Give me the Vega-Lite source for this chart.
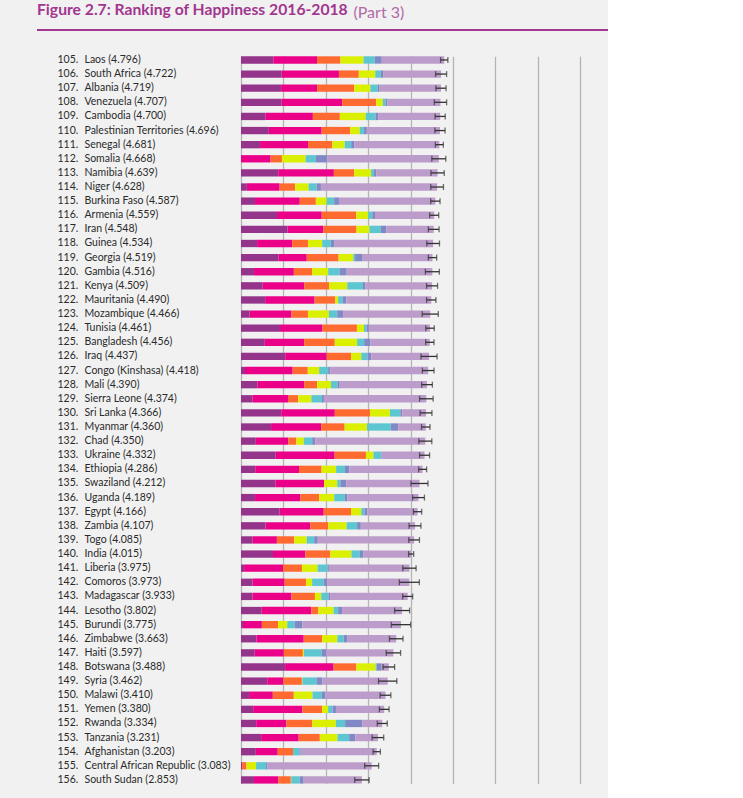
{
  "$schema": "https://vega.github.io/schema/vega-lite/v6.json",
  "width": 571,
  "height": 777,
  "autosize": "none",
  "padding": {"left": 37, "top": 30, "right": 0, "bottom": 0},
  "background": "#f1f1f1",
  "title": {
    "text": "Figure 2.7: Ranking of Happiness 2016-2018",
    "anchor": "start",
    "frame": "group",
    "font": "Lato",
    "fontSize": 15.7,
    "fontWeight": "bold",
    "color": "#a2368f",
    "offset": -15
  },
  "config": {
    "view": {"fill": null, "stroke": "#a2368f", "strokeWidth": 2, "strokeDash": [571, 6000]},
    "axis": {"labelFont": "Lato", "titleFont": "Lato"}
  },
  "datasets": {
    "factors": [
      {"factor": "gdp", "position": 1},
      {"factor": "social", "position": 2},
      {"factor": "health", "position": 3},
      {"factor": "freedom", "position": 4},
      {"factor": "generosity", "position": 5},
      {"factor": "corruption", "position": 6},
      {"factor": "dystopia", "position": 7}
    ]
  },
  "data": {
    "values": [
      {"rank": 105, "country": "Laos", "score": 4.796, "gdp": 0.764, "social": 1.030, "health": 0.551, "freedom": 0.547, "generosity": 0.266, "corruption": 0.164, "dystopia": 1.474, "lo": 4.710, "hi": 4.882},
      {"rank": 106, "country": "South Africa", "score": 4.722, "gdp": 0.960, "social": 1.351, "health": 0.469, "freedom": 0.389, "generosity": 0.130, "corruption": 0.055, "dystopia": 1.368, "lo": 4.592, "hi": 4.852},
      {"rank": 107, "country": "Albania", "score": 4.719, "gdp": 0.947, "social": 0.848, "health": 0.874, "freedom": 0.383, "generosity": 0.178, "corruption": 0.027, "dystopia": 1.462, "lo": 4.599, "hi": 4.839},
      {"rank": 108, "country": "Venezuela", "score": 4.707, "gdp": 0.960, "social": 1.427, "health": 0.805, "freedom": 0.154, "generosity": 0.064, "corruption": 0.047, "dystopia": 1.250, "lo": 4.562, "hi": 4.852},
      {"rank": 109, "country": "Cambodia", "score": 4.700, "gdp": 0.574, "social": 1.122, "health": 0.637, "freedom": 0.609, "generosity": 0.232, "corruption": 0.062, "dystopia": 1.464, "lo": 4.580, "hi": 4.820},
      {"rank": 110, "country": "Palestinian Territories", "score": 4.696, "gdp": 0.657, "social": 1.247, "health": 0.672, "freedom": 0.225, "generosity": 0.103, "corruption": 0.066, "dystopia": 1.726, "lo": 4.576, "hi": 4.816},
      {"rank": 111, "country": "Senegal", "score": 4.681, "gdp": 0.450, "social": 1.134, "health": 0.571, "freedom": 0.292, "generosity": 0.153, "corruption": 0.072, "dystopia": 2.009, "lo": 4.587, "hi": 4.775},
      {"rank": 112, "country": "Somalia", "score": 4.668, "gdp": 0.000, "social": 0.698, "health": 0.268, "freedom": 0.559, "generosity": 0.243, "corruption": 0.270, "dystopia": 2.630, "lo": 4.503, "hi": 4.833},
      {"rank": 113, "country": "Namibia", "score": 4.639, "gdp": 0.879, "social": 1.313, "health": 0.477, "freedom": 0.401, "generosity": 0.070, "corruption": 0.056, "dystopia": 1.443, "lo": 4.482, "hi": 4.796},
      {"rank": 114, "country": "Niger", "score": 4.628, "gdp": 0.138, "social": 0.774, "health": 0.366, "freedom": 0.318, "generosity": 0.188, "corruption": 0.102, "dystopia": 2.742, "lo": 4.478, "hi": 4.778},
      {"rank": 115, "country": "Burkina Faso", "score": 4.587, "gdp": 0.331, "social": 1.056, "health": 0.380, "freedom": 0.255, "generosity": 0.177, "corruption": 0.113, "dystopia": 2.275, "lo": 4.477, "hi": 4.697},
      {"rank": 116, "country": "Armenia", "score": 4.559, "gdp": 0.850, "social": 1.055, "health": 0.815, "freedom": 0.283, "generosity": 0.095, "corruption": 0.064, "dystopia": 1.397, "lo": 4.453, "hi": 4.665},
      {"rank": 117, "country": "Iran", "score": 4.548, "gdp": 1.100, "social": 0.842, "health": 0.785, "freedom": 0.305, "generosity": 0.270, "corruption": 0.125, "dystopia": 1.121, "lo": 4.422, "hi": 4.674},
      {"rank": 118, "country": "Guinea", "score": 4.534, "gdp": 0.380, "social": 0.829, "health": 0.375, "freedom": 0.332, "generosity": 0.207, "corruption": 0.086, "dystopia": 2.325, "lo": 4.384, "hi": 4.684},
      {"rank": 119, "country": "Georgia", "score": 4.519, "gdp": 0.886, "social": 0.666, "health": 0.752, "freedom": 0.346, "generosity": 0.043, "corruption": 0.164, "dystopia": 1.662, "lo": 4.421, "hi": 4.617},
      {"rank": 120, "country": "Gambia", "score": 4.516, "gdp": 0.308, "social": 0.939, "health": 0.428, "freedom": 0.382, "generosity": 0.269, "corruption": 0.167, "dystopia": 2.023, "lo": 4.351, "hi": 4.681},
      {"rank": 121, "country": "Kenya", "score": 4.509, "gdp": 0.512, "social": 0.983, "health": 0.581, "freedom": 0.431, "generosity": 0.372, "corruption": 0.053, "dystopia": 1.577, "lo": 4.379, "hi": 4.639},
      {"rank": 122, "country": "Mauritania", "score": 4.490, "gdp": 0.570, "social": 1.167, "health": 0.489, "freedom": 0.066, "generosity": 0.106, "corruption": 0.088, "dystopia": 2.004, "lo": 4.380, "hi": 4.600},
      {"rank": 123, "country": "Mozambique", "score": 4.466, "gdp": 0.204, "social": 0.986, "health": 0.390, "freedom": 0.494, "generosity": 0.197, "corruption": 0.138, "dystopia": 2.057, "lo": 4.276, "hi": 4.656},
      {"rank": 124, "country": "Tunisia", "score": 4.461, "gdp": 0.921, "social": 1.000, "health": 0.815, "freedom": 0.167, "generosity": 0.059, "corruption": 0.055, "dystopia": 1.444, "lo": 4.361, "hi": 4.561},
      {"rank": 125, "country": "Bangladesh", "score": 4.456, "gdp": 0.562, "social": 0.928, "health": 0.723, "freedom": 0.527, "generosity": 0.166, "corruption": 0.143, "dystopia": 1.407, "lo": 4.358, "hi": 4.554},
      {"rank": 126, "country": "Iraq", "score": 4.437, "gdp": 1.043, "social": 0.980, "health": 0.574, "freedom": 0.241, "generosity": 0.148, "corruption": 0.089, "dystopia": 1.362, "lo": 4.247, "hi": 4.627},
      {"rank": 127, "country": "Congo (Kinshasa)", "score": 4.418, "gdp": 0.094, "social": 1.125, "health": 0.357, "freedom": 0.269, "generosity": 0.212, "corruption": 0.053, "dystopia": 2.308, "lo": 4.281, "hi": 4.555},
      {"rank": 128, "country": "Mali", "score": 4.390, "gdp": 0.385, "social": 1.105, "health": 0.308, "freedom": 0.327, "generosity": 0.153, "corruption": 0.052, "dystopia": 2.060, "lo": 4.264, "hi": 4.516},
      {"rank": 129, "country": "Sierra Leone", "score": 4.374, "gdp": 0.268, "social": 0.841, "health": 0.242, "freedom": 0.309, "generosity": 0.252, "corruption": 0.045, "dystopia": 2.417, "lo": 4.214, "hi": 4.534},
      {"rank": 130, "country": "Sri Lanka", "score": 4.366, "gdp": 0.949, "social": 1.265, "health": 0.831, "freedom": 0.470, "generosity": 0.244, "corruption": 0.047, "dystopia": 0.560, "lo": 4.226, "hi": 4.506},
      {"rank": 131, "country": "Myanmar", "score": 4.360, "gdp": 0.710, "social": 1.181, "health": 0.555, "freedom": 0.525, "generosity": 0.566, "corruption": 0.172, "dystopia": 0.651, "lo": 4.260, "hi": 4.460},
      {"rank": 132, "country": "Chad", "score": 4.350, "gdp": 0.350, "social": 0.766, "health": 0.192, "freedom": 0.174, "generosity": 0.198, "corruption": 0.078, "dystopia": 2.592, "lo": 4.197, "hi": 4.503},
      {"rank": 133, "country": "Ukraine", "score": 4.332, "gdp": 0.820, "social": 1.390, "health": 0.739, "freedom": 0.178, "generosity": 0.187, "corruption": 0.010, "dystopia": 1.008, "lo": 4.214, "hi": 4.450},
      {"rank": 134, "country": "Ethiopia", "score": 4.286, "gdp": 0.336, "social": 1.033, "health": 0.532, "freedom": 0.344, "generosity": 0.209, "corruption": 0.100, "dystopia": 1.732, "lo": 4.192, "hi": 4.380},
      {"rank": 135, "country": "Swaziland", "score": 4.212, "gdp": 0.811, "social": 1.149, "health": 0.000, "freedom": 0.313, "generosity": 0.074, "corruption": 0.135, "dystopia": 1.730, "lo": 4.012, "hi": 4.412},
      {"rank": 136, "country": "Uganda", "score": 4.189, "gdp": 0.332, "social": 1.069, "health": 0.443, "freedom": 0.356, "generosity": 0.252, "corruption": 0.060, "dystopia": 1.677, "lo": 4.049, "hi": 4.329},
      {"rank": 137, "country": "Egypt", "score": 4.166, "gdp": 0.913, "social": 1.039, "health": 0.644, "freedom": 0.241, "generosity": 0.076, "corruption": 0.067, "dystopia": 1.186, "lo": 4.068, "hi": 4.264},
      {"rank": 138, "country": "Zambia", "score": 4.107, "gdp": 0.578, "social": 1.058, "health": 0.426, "freedom": 0.431, "generosity": 0.247, "corruption": 0.087, "dystopia": 1.280, "lo": 3.967, "hi": 4.247},
      {"rank": 139, "country": "Togo", "score": 4.085, "gdp": 0.275, "social": 0.572, "health": 0.410, "freedom": 0.293, "generosity": 0.177, "corruption": 0.085, "dystopia": 2.273, "lo": 3.959, "hi": 4.211},
      {"rank": 140, "country": "India", "score": 4.015, "gdp": 0.755, "social": 0.765, "health": 0.588, "freedom": 0.498, "generosity": 0.200, "corruption": 0.085, "dystopia": 1.124, "lo": 3.955, "hi": 4.075},
      {"rank": 141, "country": "Liberia", "score": 3.975, "gdp": 0.073, "social": 0.922, "health": 0.443, "freedom": 0.370, "generosity": 0.233, "corruption": 0.033, "dystopia": 1.901, "lo": 3.818, "hi": 4.132},
      {"rank": 142, "country": "Comoros", "score": 3.973, "gdp": 0.274, "social": 0.757, "health": 0.505, "freedom": 0.142, "generosity": 0.275, "corruption": 0.078, "dystopia": 1.942, "lo": 3.737, "hi": 4.209},
      {"rank": 143, "country": "Madagascar", "score": 3.933, "gdp": 0.274, "social": 0.916, "health": 0.555, "freedom": 0.148, "generosity": 0.169, "corruption": 0.041, "dystopia": 1.830, "lo": 3.815, "hi": 4.051},
      {"rank": 144, "country": "Lesotho", "score": 3.802, "gdp": 0.489, "social": 1.169, "health": 0.168, "freedom": 0.359, "generosity": 0.107, "corruption": 0.093, "dystopia": 1.417, "lo": 3.625, "hi": 3.979},
      {"rank": 145, "country": "Burundi", "score": 3.775, "gdp": 0.046, "social": 0.447, "health": 0.380, "freedom": 0.220, "generosity": 0.176, "corruption": 0.180, "dystopia": 2.326, "lo": 3.547, "hi": 4.003},
      {"rank": 146, "country": "Zimbabwe", "score": 3.663, "gdp": 0.366, "social": 1.114, "health": 0.433, "freedom": 0.361, "generosity": 0.151, "corruption": 0.089, "dystopia": 1.149, "lo": 3.503, "hi": 3.823},
      {"rank": 147, "country": "Haiti", "score": 3.597, "gdp": 0.323, "social": 0.688, "health": 0.449, "freedom": 0.026, "generosity": 0.419, "corruption": 0.110, "dystopia": 1.582, "lo": 3.428, "hi": 3.766},
      {"rank": 148, "country": "Botswana", "score": 3.488, "gdp": 1.041, "social": 1.145, "health": 0.538, "freedom": 0.455, "generosity": 0.025, "corruption": 0.100, "dystopia": 0.184, "lo": 3.351, "hi": 3.625},
      {"rank": 149, "country": "Syria", "score": 3.462, "gdp": 0.619, "social": 0.378, "health": 0.440, "freedom": 0.013, "generosity": 0.331, "corruption": 0.141, "dystopia": 1.540, "lo": 3.246, "hi": 3.678},
      {"rank": 150, "country": "Malawi", "score": 3.410, "gdp": 0.191, "social": 0.560, "health": 0.495, "freedom": 0.443, "generosity": 0.218, "corruption": 0.089, "dystopia": 1.414, "lo": 3.284, "hi": 3.536},
      {"rank": 151, "country": "Yemen", "score": 3.380, "gdp": 0.287, "social": 1.163, "health": 0.463, "freedom": 0.143, "generosity": 0.108, "corruption": 0.077, "dystopia": 1.139, "lo": 3.266, "hi": 3.494},
      {"rank": 152, "country": "Rwanda", "score": 3.334, "gdp": 0.359, "social": 0.711, "health": 0.614, "freedom": 0.555, "generosity": 0.217, "corruption": 0.411, "dystopia": 0.467, "lo": 3.216, "hi": 3.452},
      {"rank": 153, "country": "Tanzania", "score": 3.231, "gdp": 0.476, "social": 0.885, "health": 0.499, "freedom": 0.417, "generosity": 0.276, "corruption": 0.147, "dystopia": 0.531, "lo": 3.094, "hi": 3.368},
      {"rank": 154, "country": "Afghanistan", "score": 3.203, "gdp": 0.350, "social": 0.517, "health": 0.361, "freedom": 0.000, "generosity": 0.158, "corruption": 0.025, "dystopia": 1.792, "lo": 3.117, "hi": 3.289},
      {"rank": 155, "country": "Central African Republic", "score": 3.083, "gdp": 0.026, "social": 0.000, "health": 0.105, "freedom": 0.225, "generosity": 0.235, "corruption": 0.035, "dystopia": 2.457, "lo": 2.918, "hi": 3.248},
      {"rank": 156, "country": "South Sudan", "score": 2.853, "gdp": 0.306, "social": 0.575, "health": 0.295, "freedom": 0.010, "generosity": 0.202, "corruption": 0.091, "dystopia": 1.374, "lo": 2.684, "hi": 3.022}
    ]
  },
  "transform": [
    {"calculate": "datum.rank + '|' + datum.country + ' (' + format(datum.score, '.3f') + ')'", "as": "row"}
  ],
  "layer": [
    {
      "transform": [
        {"fold": ["gdp", "social", "health", "freedom", "generosity", "corruption", "dystopia"], "as": ["factor", "value"]},
        {"lookup": "factor", "from": {"data": {"name": "factors"}, "key": "factor", "fields": ["position"]}}
      ],
      "mark": {"type": "bar"},
      "encoding": {
        "y": {
          "field": "row",
          "type": "nominal",
          "sort": "ascending",
          "scale": {"range": [26.3, 753.6], "paddingInner": 0.48, "paddingOuter": 0},
          "axis": {
            "orient": "left",
            "title": null,
            "domain": false,
            "ticks": false,
            "tickSize": 0,
            "labelAlign": "left",
            "labelBaseline": "middle",
            "labelPadding": -47,
            "labelFontSize": 10.5,
            "labelColor": "#2a2a2a",
            "labelExpr": "split(datum.value, '|')[1]"
          }
        },
        "x": {
          "field": "value",
          "type": "quantitative",
          "stack": "zero",
          "scale": {"domain": [0, 8], "range": [204, 543], "nice": false, "zero": true},
          "axis": {
            "orient": "top",
            "values": [0, 1, 2, 3, 4, 5, 6, 7, 8],
            "grid": true,
            "gridColor": "#b4b4b4",
            "gridWidth": 1.3,
            "labels": false,
            "ticks": false,
            "domain": false,
            "title": "(Part 3)",
            "titleX": 316,
            "titleY": -18,
            "titleAlign": "left",
            "titleAnchor": null,
            "titleBaseline": "middle",
            "titleFontSize": 16,
            "titleFontWeight": "normal",
            "titleColor": "#b369a8"
          }
        },
        "color": {
          "field": "factor",
          "type": "nominal",
          "scale": {
            "domain": ["gdp", "social", "health", "freedom", "generosity", "corruption", "dystopia"],
            "range": ["#94358b", "#ea0089", "#ff6a30", "#daf000", "#5ec6d0", "#8089c6", "#bc9ccb"]
          },
          "legend": null
        },
        "order": {"field": "position", "type": "quantitative", "sort": "ascending"}
      }
    },
    {
      "mark": {"type": "rule", "color": "#333333", "strokeWidth": 1.3},
      "encoding": {
        "y": {
          "field": "row",
          "type": "nominal",
          "sort": "ascending",
          "axis": {
            "orient": "left",
            "title": null,
            "domain": false,
            "ticks": false,
            "tickSize": 0,
            "labelAlign": "left",
            "labelBaseline": "middle",
            "labelPadding": -20,
            "labelFontSize": 10.5,
            "labelColor": "#2a2a2a",
            "labelExpr": "split(datum.value, '|')[0] + '.'"
          }
        },
        "x": {"field": "lo", "type": "quantitative", "axis": null},
        "x2": {"field": "hi"}
      }
    },
    {
      "mark": {"type": "tick", "color": "#333333", "size": 6, "thickness": 1.3},
      "encoding": {
        "y": {"field": "row", "type": "nominal", "sort": "ascending", "axis": null},
        "x": {"field": "lo", "type": "quantitative", "axis": null}
      }
    },
    {
      "mark": {"type": "tick", "color": "#333333", "size": 6, "thickness": 1.3},
      "encoding": {
        "y": {"field": "row", "type": "nominal", "sort": "ascending", "axis": null},
        "x": {"field": "hi", "type": "quantitative", "axis": null}
      }
    }
  ],
  "resolve": {"axis": {"x": "independent", "y": "independent"}}
}
